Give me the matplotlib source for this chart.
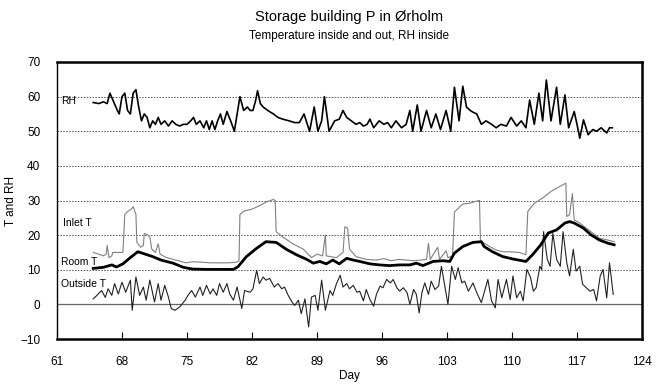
import numpy as np
import matplotlib

# headless image generation
matplotlib.use('Agg')

import matplotlib.pyplot as plt

plt.rcParams['font.family'] = ['Liberation Sans', 'DejaVu Sans']

# --- data (day, value) ---
rh_day = [64.9, 65.5, 66.0, 66.4, 66.7, 67.1, 67.5, 67.7, 68.0, 68.3, 68.6, 68.9,
          69.2, 69.5, 69.8, 70.1, 70.4, 70.7, 71.0, 71.3, 71.6, 71.9, 72.2, 72.6,
          73.0, 73.4, 73.8, 74.2, 74.6, 75.0, 75.4, 75.7, 76.0, 76.4, 76.8, 77.1,
          77.4, 77.7, 78.0, 78.3, 78.6, 78.9, 79.3, 79.7, 80.1, 80.4, 80.7, 81.1,
          81.5, 81.8, 82.1, 82.4, 82.6, 82.9, 83.2, 83.7, 84.3, 84.8, 85.3, 86.0,
          86.6, 87.1, 87.6, 88.2, 88.7, 89.1, 89.5, 89.8, 90.3, 90.9, 91.4, 91.8,
          92.2, 92.7, 93.2, 93.6, 94.0, 94.4, 94.7, 95.1, 95.7, 96.2, 96.6, 97.0,
          97.5, 98.1, 98.6, 99.0, 99.3, 99.8, 100.2, 100.8, 101.3, 101.8, 102.3,
          102.9, 103.4, 103.8, 104.3, 104.7, 105.1, 105.5, 105.8, 106.2, 106.7,
          107.2, 107.8, 108.3, 108.8, 109.4, 109.9, 110.5, 111.0, 111.5, 111.9,
          112.4, 112.9, 113.3, 113.7, 114.2, 114.8, 115.2, 115.7, 116.1, 116.7,
          117.0, 117.3, 117.7, 118.2, 118.7, 119.1, 119.6, 120.2, 120.5, 120.8]
rh_val = [58.3, 58, 58.5, 58, 61, 58.5, 56, 55, 60, 61, 56, 55,
          61, 62, 57, 53, 55, 54, 51, 53, 52, 54, 52, 53,
          51.5, 53, 52, 51.5, 52, 52, 53, 54, 52, 53, 51, 53,
          50.5, 53, 50.5, 53, 55, 52, 55.7, 53, 50, 55, 60, 56,
          57, 56, 56, 59, 61.7, 58, 57, 56, 55, 54, 53.5, 53,
          52.5, 52.5, 55, 50, 57, 50, 53, 60, 50, 53, 53.5, 56,
          54, 53, 52, 52.5, 51.5, 52, 53.5, 51, 53, 52, 52.5, 51,
          53, 51, 52, 56, 50, 57.6, 50, 56, 51, 55, 50.5,
          56, 50, 62.7, 53, 63, 57, 56, 55.5, 55, 52,
          53, 52, 51, 52, 51.5, 54, 51.5, 53, 51, 59,
          52, 61, 53, 64.8, 53, 62.7, 52, 60.5, 51, 55.7,
          52, 48, 53.3, 49, 50.5, 50, 51, 49.5, 51, 51]

inlet_day = [64.9, 65.5, 66.0, 66.3, 66.4, 66.6, 66.9, 67.0, 67.6, 68.1, 68.3,
             68.6, 69.0, 69.2, 69.5, 69.6, 70.0, 70.3, 70.4, 70.8, 71.0, 71.2,
             71.6, 71.9, 72.1, 72.8, 73.5, 74.2, 74.9, 75.6, 76.5, 77.5, 78.5,
             79.5, 80.3, 80.6, 80.7, 81.2, 82.0, 82.8, 83.5, 84.3, 84.5, 84.6,
             85.3, 86.4, 87.5, 88.4, 89.0, 89.6, 89.9, 90.0, 91.1, 91.8, 92.0,
             92.3, 92.5, 93.2, 94.3, 95.4, 96.2, 97.0, 97.8, 98.6, 99.4, 100.2,
             100.8, 101.0, 101.2, 102.0, 102.2, 102.9, 103.1, 103.6, 103.8,
             104.7, 105.4, 106.3, 106.5, 106.6, 106.8, 107.6, 108.3, 109.0,
             109.7, 110.8, 111.5, 111.7, 112.4, 113.3, 114.2, 115.1, 115.8,
             115.9, 116.2, 116.5, 116.7, 117.3, 118.0, 118.7, 119.4, 120.3, 121.0]
inlet_val = [15, 14.5, 14, 14.5, 17, 13.5, 14, 15, 15, 15, 26,
             26.8, 27.5, 28.2, 26, 18, 16.5, 17, 20.5, 20, 19.5, 16,
             15, 17.5, 14.5, 13.5, 13, 12.5, 12, 12.3, 12.2, 12, 12,
             12, 12.2, 12.5, 26, 27, 27.5, 28.5, 29.5, 30.3, 30, 21,
             19.5, 17.5, 16, 13.5, 14.5, 14, 20, 14, 13.5, 15, 22.4,
             22, 16, 13.8, 13, 12.8, 13.2, 12.6, 13, 12.8, 12.6, 12.8,
             13, 17.6, 13, 16.5, 13, 15.5, 13.5, 14, 26.7,
             29, 29.2, 29.9, 30, 18.6, 18, 16.7, 15.7, 15.2,
             15.2, 15, 14.3, 26.8, 29.2, 30.7, 32.6, 34, 35,
             25.4, 25.9, 32, 24.4, 23.5, 22, 20.6, 19.1, 18.6, 18.1]

room_day = [64.9, 66.0, 66.9, 67.4, 68.1, 68.8, 69.7, 70.4, 71.3, 72.2, 73.5,
            74.6, 75.6, 77.1, 78.5, 80.0, 80.5, 81.4, 82.5, 83.5, 84.6, 85.7,
            86.8, 87.9, 88.6, 89.3, 90.0, 90.7, 91.4, 92.2, 92.9, 93.6, 94.7,
            95.7, 96.8, 97.9, 99.0, 99.7, 100.4, 101.5, 102.6, 103.3, 103.8,
            104.7, 105.8, 106.7, 107.0, 107.9, 109.0, 110.1, 111.5, 112.2,
            113.1, 113.9, 114.8, 115.7, 116.2, 116.7, 117.7, 118.5, 119.4,
            120.3, 121.0]
room_val = [10.4, 10.7, 11.4, 10.8, 11.7, 13.3, 15.2, 14.6, 13.8, 12.8, 11.9,
            10.7, 10.2, 10.1, 10.1, 10.1, 10.9, 13.8, 16.2, 18.1, 17.9, 15.9,
            14.3, 13, 11.9, 12.4, 11.7, 12.8, 11.7, 13.3, 12.8, 12.4, 11.7,
            11.4, 11.2, 11.4, 11.4, 11.9, 11.2, 12.4, 12.6, 12.4, 14.8,
            16.7, 17.9, 18.1, 16.7, 15.2, 13.8, 13.1, 12.4, 14.3,
            17.2, 20.6, 21.5, 23.5, 23.9, 23.5, 22, 20.1, 18.6,
            17.7, 17.2]

out_day = [64.9, 65.3, 65.8, 66.2, 66.5, 66.9, 67.2, 67.6, 68.0, 68.4, 68.9,
           69.1, 69.5, 69.9, 70.3, 70.6, 71.0, 71.5, 71.9, 72.2, 72.6, 73.0,
           73.3, 73.7, 74.2, 74.8, 75.1, 75.5, 75.9, 76.4, 76.7, 77.1, 77.5,
           77.8, 78.2, 78.5, 78.9, 79.3, 79.6, 80.0, 80.4, 80.9, 81.2, 81.8,
           82.1, 82.5, 82.8, 83.2, 83.5, 83.9, 84.4, 84.8, 85.2, 85.5, 85.9,
           86.3, 86.6, 87.0, 87.3, 87.7, 88.1, 88.4, 88.8, 89.1, 89.5, 89.9,
           90.4, 90.7, 91.1, 91.5, 91.8, 92.2, 92.5, 92.9, 93.3, 93.6, 94.0,
           94.3, 94.7, 95.1, 95.4, 95.8, 96.1, 96.5, 96.9, 97.2, 97.6, 97.9,
           98.3, 98.7, 99.0, 99.4, 99.7, 100.0, 100.3, 100.6, 101.0, 101.3,
           101.7, 102.1, 102.4, 102.8, 103.1, 103.5, 103.9, 104.2, 104.6,
           104.9, 105.3, 105.8, 106.2, 106.7, 107.0, 107.4, 107.8, 108.2,
           108.5, 108.9, 109.4, 109.8, 110.1, 110.5, 110.9, 111.2, 111.6,
           112.0, 112.3, 112.6, 113.0, 113.2, 113.4, 113.8, 114.1, 114.4,
           114.8, 115.2, 115.5, 115.9, 116.2, 116.6, 116.9, 117.3, 117.6,
           118.0, 118.4, 118.8, 119.1, 119.5, 119.8, 120.2, 120.5, 120.9]
out_val = [1.6, 2.6, 4, 2, 4.5, 2.6, 6, 3, 6.4, 3.5, 7,
           -1.7, 7.9, 2.6, 5, 1.2, 7, 0.7, 6, 1.2, 5.5, 2.1,
           -1.2, -1.7, -0.8, 1.2, 2.6, 4, 2.1, 5, 2.6, 5.5, 3,
           4.5, 2.6, 6, 3.5, 6, 3, 1.2, 5, -1.2, 4, 3.5,
           4.5, 9.8, 6, 7.9, 7, 7.5, 5, 6, 4.5, 5, 2.6,
           0.7, -0.3, 1.2, -2.7, 1.6, -6.5, 2.1, 2.6, -1.7, 7, -1.7,
           4, 2.6, 6, 8.4, 5, 6, 4.5, 5.5, 3.5, 3.8, 1,
           4.3, 1.4, -0.5, 2.9, 5.3, 4.8, 7.2, 6.2, 7.2, 4.8, 3.8,
           4.8, 3.4, 0, 4.3, 2.9, -2.5, 3.4, 6.2, 2.9, 6.7,
           4.3, 5.3, 11, 4.8, 0, 11, 7.2, 10.6, 6.2,
           6.7, 3.8, 6.2, 3.4, 0.5, 3.4, 7.2, 1, -1,
           7.2, 1.9, 7.2, 1.4, 8.2, 1.9, 3.8, 1, 10.1,
           7.7, 3.8, 4.8, 11, 10, 21, 13, 11, 20.5,
           13, 11, 21, 12, 8.2, 15.9, 9.6, 11, 5.8,
           4.8, 3.8, 4.3, 1, 8.2, 10.1, 1.9, 12, 2.9]

x_ticks = [61, 68, 75, 82, 89, 96, 103, 110, 117, 124]
y_ticks = [-10, 0, 10, 20, 30, 40, 50, 60, 70]

fig = plt.figure(figsize=(6.6, 3.87), dpi=100)
ax = fig.add_axes([57 / 660, 1 - 339 / 387, 585 / 660, 277 / 387])

# grid: dotted lines, solid zero line
for y in y_ticks[2:-1]:
    ax.axhline(y, color='#555555', lw=0.7, ls=(0, (1.5, 1.5)), zorder=1)
ax.axhline(0, color='#666666', lw=0.9, zorder=1)

ax.plot(rh_day, rh_val, color='black', lw=1.2, solid_joinstyle='round', zorder=3)
ax.plot(inlet_day, inlet_val, color='#808080', lw=0.8, zorder=2)
ax.plot(room_day, room_val, color='black', lw=2.0, solid_joinstyle='round', zorder=3)
ax.plot(out_day, out_val, color='#222222', lw=0.8, zorder=2)

# series labels
lab = dict(fontsize=7.5, ha='left', va='center', zorder=4)
ax.text(61.4, 58.7, 'RH', **lab)
ax.text(61.6, 23.5, 'Inlet T', **lab)
ax.text(61.4, 12.3, 'Room T', **lab)
ax.text(61.4, 6.0, 'Outside T', **lab)

ax.set_xlim(61, 124)
ax.set_ylim(-10, 70)
ax.set_xticks(x_ticks)
ax.set_yticks(y_ticks)
ax.tick_params(axis='x', direction='in', length=5, width=0.8, pad=12,
               labelsize=8.5, top=False)
ax.tick_params(axis='y', length=0, pad=12, labelsize=8.5)

for side in ['top', 'right', 'bottom']:
    ax.spines[side].set_linewidth(1.8)
ax.spines['left'].set_linewidth(1.0)

ax.set_xlabel('Day', fontsize=8.5, labelpad=2)
ax.set_ylabel('T and RH', fontsize=8.5)
ax.yaxis.set_label_coords(-0.068, 0.5)

fig.text(0.529, 1 - 17 / 387, 'Storage building P in \u00d8rholm',
         ha='center', va='center', fontsize=10.5)
fig.text(0.529, 1 - 36 / 387, 'Temperature inside and out, RH inside',
         ha='center', va='center', fontsize=8.5)

plt.savefig('out.png', dpi=100)
